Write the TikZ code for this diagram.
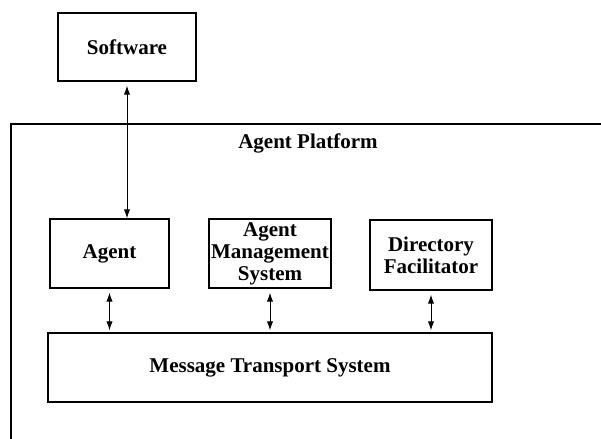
\documentclass[tikz,border=0pt]{standalone}
\usepackage{fontspec}
\setmainfont{Liberation Serif}
\usetikzlibrary{arrows.meta}
\begin{document}
\begin{tikzpicture}[x=0.5pt, y=-0.5pt, line width=0.7pt,
  box/.style = {draw, align=center, font=\bfseries\fontsize{10.5}{11}\selectfont, inner sep=1pt},
  link/.style = {{Latex[length=4.5pt,width=3.2pt]}-{Latex[length=4.5pt,width=3.2pt]}, line width=0.5pt}]
  \useasboundingbox (0,0) rectangle (601,439);
  % platform frame, cut by the page edge
  \coordinate (pbl) at (11,439);
  \coordinate (ptl) at (11,124);
  \coordinate (ptr) at (601,124);
  \draw (pbl) -- (ptl) -- (ptr);
  \node[font=\bfseries\fontsize{10.5}{11}\selectfont] (platform) at (308,143) {Agent Platform};
  \node[box, minimum width=69pt, minimum height=34pt] (soft) at (127,47) {Software};
  \node[box, minimum width=59.5pt, minimum height=34.5pt] (agent) at (109.5,253.5) {Agent};
  \node[box, minimum width=60pt, minimum height=34.5pt] (ams) at (270,253.5) {Agent\\Management\\System};
  \node[box, minimum width=61pt, minimum height=35pt] (df) at (431,255) {Directory\\Facilitator};
  \node[box, minimum width=222pt, minimum height=34.5pt] (mts) at (270,367.5) {Message Transport System};
  \draw[link] ([yshift=-2pt]soft.south) -- (soft.south |- agent.north);
  \draw[link] ([yshift=-2pt]agent.south) -- ([yshift=1pt]agent.south |- mts.north);
  \draw[link] ([yshift=-2pt]ams.south) -- ([yshift=1pt]ams.south |- mts.north);
  \draw[link] ([yshift=-2pt]df.south) -- ([yshift=1pt]df.south |- mts.north);
\end{tikzpicture}
\end{document}
